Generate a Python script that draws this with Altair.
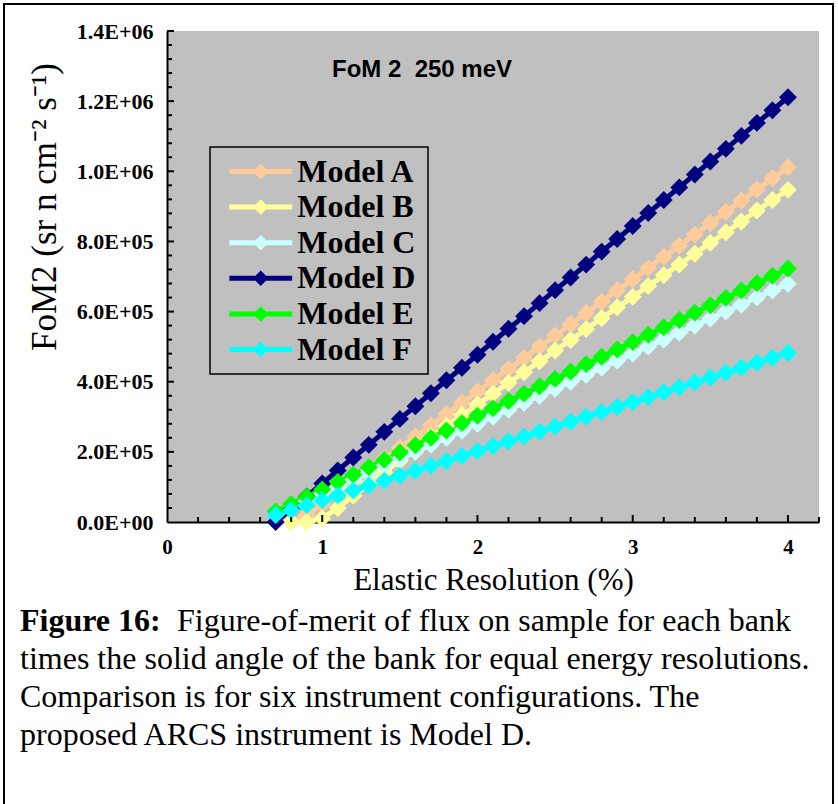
import altair as alt
import pandas as pd

# ---------------- data (FoM2 values in thousands) ----------------
res_x = [0.7, 0.8, 0.9, 1.0, 1.1, 1.2, 1.3, 1.4, 1.5, 1.6, 1.7, 1.8, 1.9, 2.0, 2.1, 2.2, 2.3,
         2.4, 2.5, 2.6, 2.7, 2.8, 2.9, 3.0, 3.1, 3.2, 3.3, 3.4, 3.5, 3.6, 3.7, 3.8, 3.9, 4.0]

model_a = [None, 0, 20, 50, 82, 115, 148, 180, 212, 244, 276, 308, 340, 372, 404, 436, 468,
           500, 532, 564, 596, 628, 660, 692, 724, 756, 788, 820, 852, 884, 916, 948, 980, 1011]
model_b = [None, 0, 0, 10, 40, 75, 110, 142, 175, 210, 243, 274, 305, 335, 366, 397, 427,
           458, 489, 519, 550, 581, 612, 642, 673, 704, 734, 765, 796, 826, 857, 888, 918, 947]
model_c = [20, 40, 60, 80, 100, 120, 140, 160, 180, 200, 220, 240, 260, 280, 300, 320, 340,
           360, 380, 400, 420, 440, 460, 480, 500, 520, 540, 560, 580, 600, 620, 640, 660, 679]
model_d = [0, 37, 73, 110, 147, 184, 220, 257, 294, 330, 367, 404, 440, 477, 514, 551, 587,
           624, 661, 697, 734, 771, 807, 844, 881, 918, 954, 991, 1028, 1064, 1101, 1138, 1174, 1211]
model_e = [30, 51, 72, 93, 114, 135, 156, 177, 198, 219, 240, 261, 282, 303, 324, 345, 366,
           387, 408, 429, 450, 471, 492, 513, 534, 555, 576, 597, 618, 639, 660, 681, 702, 723]
model_f = [20, 34, 48, 62, 76, 90, 104, 118, 132, 146, 160, 174, 188, 202, 216, 230, 244,
           258, 272, 286, 300, 314, 328, 342, 356, 370, 384, 398, 412, 426, 440, 454, 468, 482]

models = ["Model A", "Model B", "Model C", "Model D", "Model E", "Model F"]
colors = ["#FFCC99", "#FFFF99", "#CCFFFF", "#000080", "#00FF00", "#00FFFF"]

x_tick_labels = [0, 1, 2, 3, 4]
y_tick_labels = [0, 200000, 400000, 600000, 800000, 1000000, 1200000, 1400000]
x_minor_ticks = [0.2, 0.4, 0.6, 0.8, 1.2, 1.4, 1.6, 1.8, 2.2, 2.4, 2.6, 2.8,
                 3.2, 3.4, 3.6, 3.8, 4.2]
x_major_ticks = [1, 2, 3, 4]
y_minor_ticks = [40000, 80000, 120000, 160000, 240000, 280000, 320000, 360000,
                 440000, 480000, 520000, 560000, 640000, 680000, 720000, 760000,
                 840000, 880000, 920000, 960000, 1040000, 1080000, 1120000, 1160000,
                 1240000, 1280000, 1320000, 1360000]
y_major_ticks = [200000, 400000, 600000, 800000, 1000000, 1200000, 1400000]

chart_title = "FoM 2\u00a0\u00a0250 meV"
x_title = "Elastic Resolution (%)"
y_title = "FoM2 (sr n cm\u207b\u00b2 s\u207b\u00b9)"
caption_bold = "Figure 16:"
caption_lines = [
    "Figure-of-merit of flux on sample for each bank",
    "times the solid angle of the bank for equal energy resolutions.",
    "Comparison is for six instrument configurations. The",
    "proposed ARCS instrument is Model D.",
]

# ---------------- layout ----------------
W, H = 652, 491
PAD_L, PAD_T = 167, 31
SERIF = "Liberation Serif"
SANS = "Liberation Sans"

rows = []
for name, vals in zip(models, [model_a, model_b, model_c, model_d, model_e, model_f]):
    for xv, v in zip(res_x, vals):
        if v is not None:
            rows.append({"res": xv, "fom": v * 1000.0, "model": name})
df = pd.DataFrame(rows)

x_scale = alt.Scale(domain=[0, 4.2], nice=False, zero=False)
y_scale = alt.Scale(domain=[0, 1400000], nice=False)

y_label_expr = ("datum.value == 0 ? '0.0E+00' : "
                "format(datum.value / pow(10, floor(log(datum.value) / LN10 + 1e-9)), '.1f')"
                " + 'E+0' + floor(log(datum.value) / LN10 + 1e-9)")

x_axis = alt.Axis(values=x_tick_labels, format="d", labelFont=SERIF,
                  labelFontWeight="bold", labelFontSize=21, labelColor="black",
                  labelPadding=14, ticks=False, domainColor="black", domainWidth=2,
                  grid=False, title=x_title, titleFont=SERIF,
                  titleFontWeight="normal", titleFontSize=31, titleColor="black",
                  titlePadding=8, labelFlush=False)
y_axis = alt.Axis(values=y_tick_labels, labelExpr=y_label_expr, labelFont=SERIF,
                  labelFontWeight="bold", labelFontSize=22, labelColor="black",
                  labelPadding=14, ticks=False, domainColor="black", domainWidth=2,
                  grid=False, title=None, labelFlush=False)

XENC = alt.X("res:Q", scale=x_scale, axis=x_axis)
YENC = alt.Y("fom:Q", scale=y_scale, axis=y_axis)

# line layer: stroke scale with a data-driven domain (sorted A..F)
lines = alt.Chart(df).mark_line(strokeWidth=5).encode(
    x=XENC, y=YENC,
    stroke=alt.Stroke("model:N", scale=alt.Scale(range=colors), legend=None),
    detail="model:N",
)

LEG_PATH = ("M-4.06,-0.32L4.06,-0.32L4.06,0.32L-4.06,0.32Z"
            "M-1,0L0,-1L1,0L0,1Z")

points = alt.Chart(df).mark_point(filled=True, shape="diamond", size=320, opacity=1).encode(
    x=XENC, y=YENC,
    color=alt.Color("model:N", scale=alt.Scale(domain=models, range=colors),
                    legend=alt.Legend(orient="none", legendX=77.75, legendY=124.5, title=None,
                                      symbolType=LEG_PATH, symbolSize=240,
                                      symbolStrokeWidth=0, symbolOpacity=1,
                                      labelFont=SERIF, labelFontSize=32,
                                      labelFontWeight="bold", labelColor="black",
                                      labelOffset=20.5, rowPadding=3.6, padding=0)),
)

# inward ticks
def tick_layer(vals, field, length, orient):
    d = pd.DataFrame({field: vals})
    if orient == "x":
        return alt.Chart(d).mark_rule(color="black", strokeWidth=2).encode(
            x=XENC, y=alt.value(H), y2=alt.value(H - length))
    return alt.Chart(d).mark_rule(color="black", strokeWidth=2).encode(
        y=YENC, x=alt.value(0), x2=alt.value(length))

ticks = [
    tick_layer(x_minor_ticks, "res", 5, "x"),
    tick_layer(x_major_ticks, "res", 7, "x"),
    tick_layer(y_minor_ticks, "fom", 5, "y"),
    tick_layer(y_major_ticks, "fom", 7, "y"),
]

one = pd.DataFrame({"k": [0]})

legend_box = alt.Chart(one).mark_rect(fill="transparent", stroke="black", strokeWidth=1.5).encode(
    x=alt.value(210 - PAD_L), x2=alt.value(428 - PAD_L),
    y=alt.value(147 - PAD_T), y2=alt.value(374 - PAD_T))

frame = alt.Chart(one).mark_rect(fill="transparent", stroke="black", strokeWidth=2).encode(
    x=alt.value(4 - PAD_L), x2=alt.value(833 - PAD_L),
    y=alt.value(4 - PAD_T), y2=alt.value(900))

def text_layer(txt, x, y, **kw):
    return alt.Chart(pd.DataFrame({"t": [txt]})).mark_text(**kw).encode(
        text="t:N", x=alt.value(x - PAD_L), y=alt.value(y - PAD_T))

title_t = text_layer(chart_title, 422, 70, font=SANS, fontWeight="bold", fontSize=24,
                     align="center", baseline="middle", color="black")
ytitle_t = text_layer(y_title, 45, 207, font=SERIF, fontSize=35, angle=270,
                      align="center", baseline="middle", color="black")

cap = [text_layer(caption_bold, 20, 631, font=SERIF, fontWeight="bold", fontSize=32,
                  align="left", baseline="alphabetic", color="black")]
cap_x = [177, 20, 20, 20]
cap_y = [631, 669, 707, 745]
for s, cx, cy in zip(caption_lines, cap_x, cap_y):
    cap.append(text_layer(s, cx, cy, font=SERIF, fontSize=32, align="left",
                          baseline="alphabetic", color="black"))

chart = alt.layer(lines, points, *ticks, legend_box, frame, title_t, ytitle_t, *cap).properties(
    width=W, height=H,
    autosize=alt.AutoSizeParams(type="none"),
    padding={"left": PAD_L, "top": PAD_T, "right": 838 - PAD_L - W, "bottom": 804 - PAD_T - H},
    background="white",
).configure_view(fill="#C0C0C0", strokeWidth=0)

chart.save("out.html", embed_options={"renderer": "svg", "actions": False})
